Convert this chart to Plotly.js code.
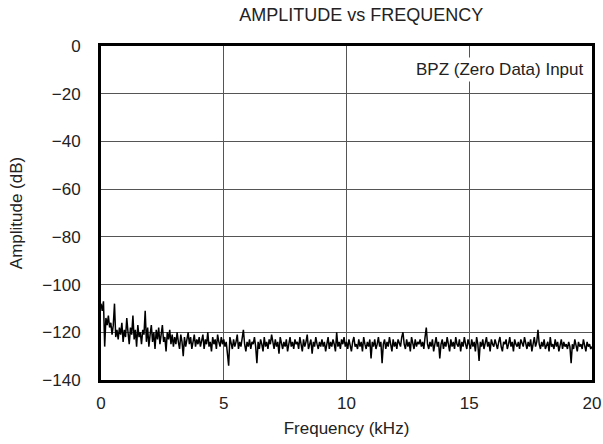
<!DOCTYPE html>
<html>
<head>
<meta charset="utf-8">
<script src="https://cdn.plot.ly/plotly-3.0.1.min.js"></script>
<style>html,body{margin:0;padding:0;background:#fff;}#chart{width:603px;height:444px;}</style>
</head>
<body>
<div id="chart"></div>
<script>
// Frequency grid: FFT bins 0..20 kHz
const freqStartKHz = 0;
const freqStepKHz = 0.05;

// Amplitude (dB) per bin
const amplitudeDb = [
  -108, -111, -107, -126, -114, -117, -113, -118, -116, -121, -117, -108, -122, -119, -123, -118, -121, -116, -124, -119,
  -122, -114, -120, -125, -118, -121, -113, -123, -119, -126, -117, -122, -120, -125, -119, -121, -111, -124, -118, -126,
  -121, -117, -124, -120, -127, -119, -123, -118, -125, -121, -117, -124, -122, -128, -120, -123, -119, -125, -121, -126,
  -122, -125, -120, -124, -127, -121, -124, -130, -122, -126, -123, -120, -125, -122, -127, -124, -121, -126, -123, -125,
  -122, -126, -124, -121, -127, -123, -125, -120, -126, -124, -128, -122, -125, -123, -127, -121, -124, -126, -122, -125,
  -123, -126, -124, -128, -134, -122, -125, -127, -123, -126, -124, -121, -127, -124, -126, -123, -119, -125, -128, -124,
  -126, -123, -127, -124, -125, -122, -126, -133, -124, -127, -123, -125, -128, -122, -126, -124, -127, -123, -125, -121,
  -125, -127, -123, -126, -124, -129, -122, -125, -127, -124, -126, -123, -128, -125, -122, -126, -124, -127, -123, -125,
  -124, -127, -122, -125, -128, -123, -126, -124, -121, -127, -125, -123, -129, -124, -126, -122, -125, -127, -124, -126,
  -123, -126, -124, -128, -125, -122, -127, -124, -126, -123, -125, -128, -120, -126, -124, -127, -123, -125, -122, -126,
  -124, -127, -123, -125, -128, -124, -122, -126, -125, -127, -123, -126, -124, -128, -122, -125, -127, -124, -126, -123,
  -131, -124, -126, -123, -127, -125, -122, -126, -124, -133, -125, -123, -127, -124, -126, -122, -125, -128, -123, -126,
  -124, -127, -123, -125, -126, -122, -120, -125, -127, -123, -126, -124, -128, -122, -125, -127, -123, -126, -124, -125,
  -123, -126, -124, -127, -122, -118, -125, -127, -124, -126, -123, -128, -125, -122, -126, -124, -131, -125, -123, -127,
  -124, -126, -122, -125, -128, -123, -126, -124, -127, -122, -125, -126, -123, -128, -124, -126, -122, -125, -127, -123,
  -125, -127, -123, -126, -124, -128, -122, -125, -132, -124, -126, -123, -127, -125, -122, -126, -124, -128, -123, -125,
  -126, -123, -125, -127, -124, -122, -126, -128, -124, -125, -123, -127, -125, -122, -126, -124, -128, -123, -125, -126,
  -124, -127, -123, -125, -126, -122, -125, -127, -124, -126, -123, -128, -125, -122, -126, -124, -119, -125, -127, -124,
  -126, -123, -127, -125, -124, -128, -122, -126, -125, -127, -123, -126, -124, -128, -125, -123, -127, -124, -126, -125,
  -127, -124, -126, -133, -125, -127, -123, -126, -128, -124, -126, -125, -127, -123, -126, -128, -124, -126, -125, -127, -126
];

const xTickVals = [0, 5, 10, 15, 20];
const yTickVals = [0, -20, -40, -60, -80, -100, -120, -140];

const freqKHz = amplitudeDb.map((_, i) => +(freqStartKHz + i * freqStepKHz).toFixed(3));

const fam = '"Liberation Sans", Arial, Helvetica, sans-serif';
const font = {family: fam, size: 17, color: '#222'};

const trace = {
  x: freqKHz,
  y: amplitudeDb,
  type: 'scatter',
  mode: 'lines',
  line: {color: '#000', width: 1.5},
  hoverinfo: 'skip'
};

const layout = {
  width: 603,
  height: 444,
  margin: {l: 101, r: 11, t: 46, b: 64},
  paper_bgcolor: '#fff',
  plot_bgcolor: '#fff',
  font: font,
  showlegend: false,
  title: {text: 'AMPLITUDE vs FREQUENCY', font: {family: fam, size: 18, color: '#222'}, xref: 'container', x: 0.599, xanchor: 'center', yref: 'container', y: 0.968, yanchor: 'middle'},
  xaxis: {
    range: [0, 20],
    tickvals: xTickVals,
    ticktext: xTickVals.map(String),
    showgrid: true, gridcolor: '#555', gridwidth: 1,
    showline: true, linecolor: '#000', linewidth: 3, mirror: true,
    zeroline: false,
    ticks: '', ticklabelstandoff: 6,
    title: {text: 'Frequency (kHz)', font: font, standoff: 10}
  },
  yaxis: {
    range: [-140, 0],
    tickvals: yTickVals,
    showgrid: true, gridcolor: '#555', gridwidth: 1,
    showline: true, linecolor: '#000', linewidth: 3, mirror: true,
    zeroline: false,
    ticks: '', ticklabelstandoff: 14,
    title: {text: 'Amplitude (dB)', font: font, standoff: 16}
  },
  annotations: [{
    text: 'BPZ (Zero Data) Input',
    xref: 'paper', yref: 'paper', x: 0.99, y: 0.93,
    xanchor: 'right', yanchor: 'middle',
    showarrow: false, bgcolor: '#fff', borderpad: 2,
    font: {family: fam, size: 17, color: '#222'}
  }]
};

Plotly.newPlot('chart', [trace], layout, {displayModeBar: false, staticPlot: true});
</script>
</body>
</html>
